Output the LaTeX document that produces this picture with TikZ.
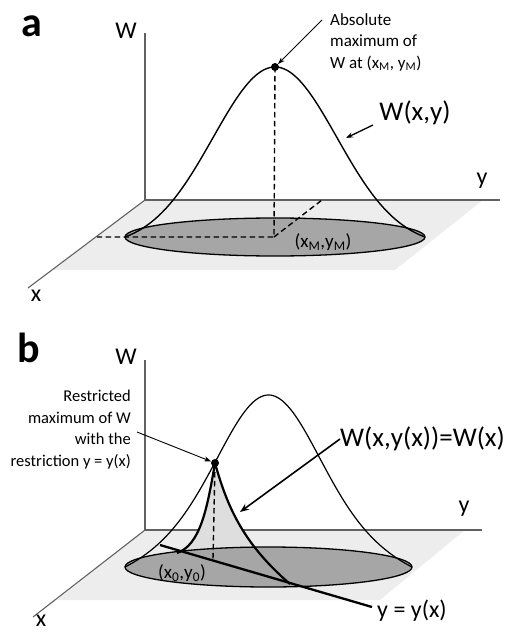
\documentclass[tikz,border=0pt]{standalone}
\usepackage{fontspec}
\setmainfont{Carlito}
\usetikzlibrary{arrows.meta}
\newcommand{\sbs}[1]{\textsubscript{#1}}
\begin{document}
\begin{tikzpicture}[x=1pt,y=-1pt,
  axis/.style={draw=black!62, line width=1.1pt},
  planecol/.style={fill=black!7},
  disc/.style={fill=black!35, draw=black, line width=1.3pt},
  surf/.style={draw=black, line width=1.4pt},
  surfthick/.style={draw=black, line width=2.2pt},
  dashln/.style={draw=black, line width=1.4pt, dash pattern=on 5.5pt off 3.5pt},
  dotpt/.style={circle, fill=black, inner sep=0pt, minimum size=8pt},
  ptr/.style={-{Stealth[length=7pt,width=5pt]}, line width=0.9pt},
  ptrb/.style={-{Stealth[length=9pt,width=7pt]}, line width=1.6pt},
  panel/.style={font=\fontsize{42}{44}\selectfont\bfseries, inner sep=0pt},
  axlbl/.style={font=\fontsize{24}{26}\selectfont, inner sep=0pt},
  biglbl/.style={font=\fontsize{27}{30}\selectfont, inner sep=0pt},
  note/.style={font=\fontsize{17}{21.5}\selectfont, inner sep=0pt},
  ptlbl/.style={font=\fontsize{19}{21}\selectfont, inner sep=0pt}
]
\useasboundingbox (0,0) rectangle (511,636);

% ---------------- panel a ----------------
\node[panel] (pa) at (32,26) {a};
\fill[planecol] (145,200) -- (483,200) -- (395,270) -- (53,270) -- cycle;
\coordinate (oA) at (145,200);
\coordinate (wA) at (145,33);
\coordinate (yA) at (500,200);
\coordinate (xA) at (28,288);
\draw[axis] (wA) -- (oA) -- (yA);
\draw[axis] (oA) -- (xA);
\node[axlbl] (WA) at (126,31) {W};
\node[axlbl] (yAl) at (482,181) {y};
\node[axlbl] (xAl) at (36,296) {x};

\draw[disc] (275,237) ellipse [x radius=150pt, y radius=19pt];
\draw[surf] plot[domain=-1.5:1.5, samples=121, smooth]
  ({275+100*\x},{237-170*(exp(-\x*\x/0.7688)-0.0536)/0.9464});

\coordinate (peakA) at (275,67);
\coordinate (baseM) at (274,237);
\coordinate (xproj) at (97,237);
\coordinate (yproj) at (322,200);
\draw[dashln] (peakA) -- (baseM) -- (xproj);
\draw[dashln] (baseM) -- (yproj);
\node[dotpt] (dotA) at (peakA) {};

\node[ptlbl] (xmym) at (323,242) {(x\sbs{M},y\sbs{M})};

\node[note, anchor=north west, align=left] (absnote) at (330,13)
  {Absolute\\maximum of\\W at (x\sbs{M}, y\sbs{M})};
\coordinate (absfrom) at (322,20);
\draw[ptr] (absfrom) -- (dotA);

\node[biglbl] (Wxy) at (415,113) {W(x,y)};
\coordinate (wxyfrom) at (373,125);
\coordinate (wxyto) at (346,138);
\draw[ptr, line width=1.3pt] (wxyfrom) -- (wxyto);

% ---------------- panel b ----------------
\node[panel] (pb) at (29,348) {b};
\fill[planecol] (145,530) -- (465,530) -- (380,600) -- (57,600) -- cycle;
\coordinate (oB) at (145,530);
\coordinate (wB) at (145,360);
\coordinate (yB) at (482,530);
\coordinate (xB) at (33,617);
\draw[axis] (wB) -- (oB) -- (yB);
\draw[axis] (oB) -- (xB);
\node[axlbl] (WB) at (126,357) {W};
\node[axlbl] (yBl) at (464,509) {y};
\node[axlbl] (xBl) at (41,621) {x};

\coordinate (dotBpos) at (215,463);
\coordinate (inL) at (177,553);
\coordinate (inR) at (290,584);
% light surface section
\fill[black!13] (inL) .. controls (200,545) and (207,510) .. (dotBpos)
   .. controls (228,510) and (245,545) .. (inR) -- cycle;

\draw[disc] (268.5,567) ellipse [x radius=143.5pt, y radius=20pt];
\draw[surf, line width=1.2pt] plot[domain=-1.435:1.435, samples=121, smooth]
  ({268.5+100*\x},{567-172*((0.5*exp(-\x*\x/0.405)+0.5*exp(-\x*\x/1.445))-0.1234)/0.8766});

\coordinate (baseB) at (213,559);
\draw[dashln] (dotBpos) -- (baseB);
\draw[surfthick] (inL) .. controls (200,545) and (207,510) .. (dotBpos);
\draw[surfthick] (dotBpos) .. controls (228,510) and (245,545) .. (inR);

\coordinate (lineS) at (160,545);
\coordinate (lineE) at (372,607);
\draw[black, line width=2.3pt] (lineS) -- (lineE);
\node[dotpt] (dotB) at (dotBpos) {};

\node[ptlbl] (x0y0) at (182,573) {(x\sbs{0},y\sbs{0})};
\node[axlbl, anchor=west] (yyx) at (377,611) {y = y(x)};

\node[biglbl, anchor=west] (Wxyx) at (340,439) {W(x,y(x))=W(x)};
\coordinate (wxyxto) at (240,512);
\draw[ptrb] (Wxyx.west) -- (wxyxto);

\node[note, anchor=north east, align=right, font=\fontsize{16.5}{21.5}\selectfont] (restr) at (131,390)
  {Restricted\\maximum of W\\with the\\restriction y = y(x)};
\coordinate (restrfrom) at (137,432);
\draw[ptr] (restrfrom) -- (dotB);
\end{tikzpicture}
\end{document}
